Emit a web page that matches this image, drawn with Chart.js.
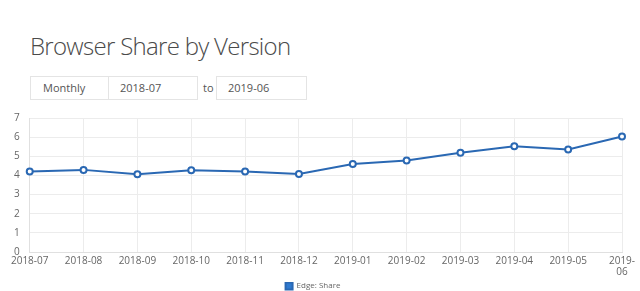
<!DOCTYPE html>
<html lang="en">
  <head>
    <meta charset="UTF-8" />
    <title>Browser Share by Version</title>
    <script src="https://cdn.jsdelivr.net/npm/chart.js"></script>
    <style>
      body {
        margin: 0;
        background-color: #ffffff;
        font-family: "Open Sans", sans-serif;
        color: #444444;
        width: 640px;
        height: 291px;
        position: relative;
        overflow: hidden;
      }
      h1 {
        position: absolute;
        left: 30px;
        top: 29px;
        margin: 0;
        font-size: 24px;
        font-weight: 300;
        letter-spacing: -0.7px;
        color: #4a4a4a;
        line-height: 34px;
      }
      .box {
        position: absolute;
        top: 76px;
        height: 24px;
        border: 1px solid #e4e4e4;
        box-sizing: border-box;
        font-size: 11px;
        line-height: 22px;
        color: #555555;
      }
      .to {
        position: absolute;
        left: 203px;
        top: 76px;
        line-height: 24px;
        font-size: 11px;
        color: #555555;
      }
      #wrap {
        position: absolute;
        left: 0;
        top: 102px;
        width: 640px;
        height: 198px;
      }
    </style>
  </head>
  <body>
    <h1>Browser Share by Version</h1>
    <div class="box" style="left: 30px; width: 79px; padding-left: 12px">Monthly</div>
    <div class="box" style="left: 108px; width: 90px; padding-left: 11px">2018-07</div>
    <div class="to">to</div>
    <div class="box" style="left: 216px; width: 91px; padding-left: 11px">2019-06</div>
    <div id="wrap"><canvas id="shareChart"></canvas></div>
    <script>
      const months = [
        "2018-07", "2018-08", "2018-09", "2018-10", "2018-11", "2018-12",
        "2019-01", "2019-02", "2019-03", "2019-04", "2019-05", "2019-06",
      ];
      const edgeShare = [4.2, 4.29, 4.06, 4.27, 4.2, 4.08, 4.6, 4.78, 5.18, 5.52, 5.36, 6.03];
      const yTicks = [0, 1, 2, 3, 4, 5, 6, 7];

      document.addEventListener("DOMContentLoaded", function () {
        const ctx = document.getElementById("shareChart").getContext("2d");

        new Chart(ctx, {
          type: "line",
          data: {
            labels: months,
            datasets: [
              {
                label: "Edge: Share",
                data: edgeShare,
                borderColor: "#2a68b3",
                backgroundColor: "#2f7ad0",
                borderWidth: 2,
                pointRadius: 3,
                pointBorderWidth: 2,
                pointBackgroundColor: "#ffffff",
                pointBorderColor: "#2a68b3",
                tension: 0,
                fill: false,
              },
            ],
          },
          options: {
            responsive: true,
            maintainAspectRatio: false,
            animation: false,
            layout: {
              padding: { top: 1, right: 18, left: 4, bottom: 0 },
            },
            plugins: {
              legend: {
                display: true,
                position: "bottom",
                labels: {
                  color: "#666666",
                  boxWidth: 7,
                  boxHeight: 7,
                  padding: 0,
                  font: { family: "Open Sans", size: 8 },
                },
              },
              tooltip: { enabled: false },
            },
            scales: {
              x: {
                grid: { color: "#ececec", drawTicks: false },
                border: { color: "#e0e0e0" },
                ticks: {
                  color: "#666666",
                  padding: 4,
                  maxRotation: 0,
                  autoSkip: false,
                  font: { family: "Open Sans", size: 10, lineHeight: 1.1 },
                  callback: function (value, index) {
                    const label = months[index];
                    if (index === months.length - 1) {
                      return [label.slice(0, 5), label.slice(5)];
                    }
                    return label;
                  },
                },
              },
              y: {
                min: yTicks[0],
                max: yTicks[yTicks.length - 1],
                grid: { color: "#ececec", drawTicks: false },
                border: { color: "#e0e0e0" },
                ticks: {
                  stepSize: 1,
                  color: "#666666",
                  padding: 10,
                  font: { family: "Open Sans", size: 10 },
                },
              },
            },
          },
        });
      });
    </script>
  </body>
</html>
